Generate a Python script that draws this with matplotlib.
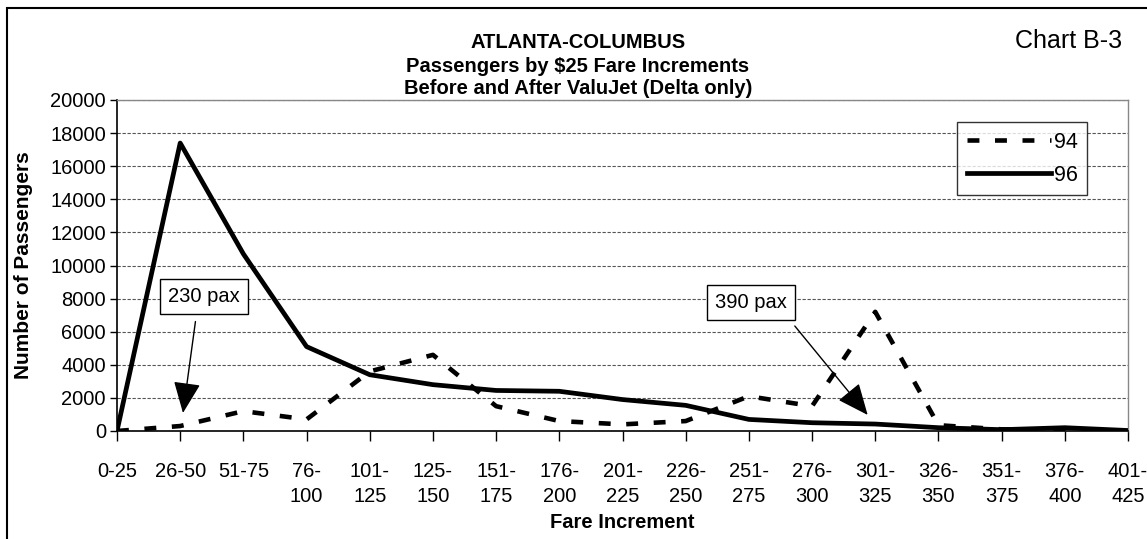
import matplotlib
matplotlib.use("Agg")
import matplotlib.pyplot as plt
from matplotlib.patches import Rectangle

plt.rcParams['font.family'] = ['Liberation Sans', 'DejaVu Sans']

# ---------- data ----------
fare_labels = ["0-25", "26-50", "51-75", "76-\n100", "101-\n125", "125-\n150", "151-\n175",
               "176-\n200", "201-\n225", "226-\n250", "251-\n275", "276-\n300", "301-\n325",
               "326-\n350", "351-\n375", "376-\n400", "401-\n425"]
pax_94 = [0, 300, 1200, 700, 3600, 4600, 1500, 600, 400, 600, 2100, 1500, 7200, 350, 100, 100, 0]
pax_96 = [0, 17400, 10700, 5100, 3400, 2800, 2450, 2400, 1900, 1550, 700, 500, 420, 200, 80, 200, 30]
y_ticks = list(range(0, 20001, 2000))

W, H = 1147, 539
fig = plt.figure(figsize=(W / 100, H / 100), dpi=100)
ax = fig.add_axes([117 / W, 1 - 431 / H, (1128 - 117) / W, (431 - 100) / H])

x = list(range(len(fare_labels)))
ax.plot(x, pax_94, color="black", lw=3.3, dashes=(2.6, 3.4), label="94",
        dash_capstyle="butt", zorder=3)
ax.plot(x, pax_96, color="black", lw=3.4, label="96", zorder=3)

ax.set_xlim(0, len(fare_labels) - 1)
ax.set_ylim(0, 20000)
ax.set_yticks(y_ticks)
ax.set_xticks(x)
ax.set_xticklabels(fare_labels, fontsize=14.5, linespacing=1.45, va="top")
ax.tick_params(axis="y", labelsize=14.5, length=5, width=1, direction="out", pad=3)
ax.tick_params(axis="x", length=7, width=1, direction="out", pad=15)
ax.grid(axis="y", color="#555555", ls=(0, (3, 1.5)), lw=0.8)
ax.set_axisbelow(True)
for s in ("top", "right"):
    ax.spines[s].set_color("#888888")
    ax.spines[s].set_linewidth(1)
ax.spines["left"].set_linewidth(1.2)
ax.spines["bottom"].set_linewidth(1.2)

ax.set_ylabel("Number of Passengers", fontsize=15, fontweight="bold", labelpad=12)
ax.set_xlabel("Fare Increment", fontsize=14.5, fontweight="bold", labelpad=5)

leg = ax.legend(loc="upper left", bbox_to_anchor=((957 - 117) / 1011, (431 - 122) / 331),
                fontsize=15.5, frameon=True, fancybox=False, edgecolor="black",
                handlelength=3.9, handletextpad=0.15, borderpad=0.45, labelspacing=0.55,
                borderaxespad=0)
leg.get_frame().set_linewidth(1)

# annotations
box = dict(boxstyle="square,pad=0.4", fc="white", ec="black", lw=1)
ax.annotate("230 pax", xy=(1.044, 1090), xytext=(1.377, 8120), fontsize=14.5,
            ha="center", va="center", bbox=box,
            arrowprops=dict(arrowstyle="-|>,head_width=0.5,head_length=1.15", color="black",
                            lw=1, shrinkA=5, shrinkB=0, mutation_scale=17, relpos=(0.41, 0)))
ax.annotate("390 pax", xy=(11.88, 970), xytext=(10.04, 7760), fontsize=14.5,
            ha="center", va="center", bbox=box,
            arrowprops=dict(arrowstyle="-|>,head_width=0.5,head_length=1.15", color="black",
                            lw=1, shrinkA=5, shrinkB=0, mutation_scale=17, relpos=(0.945, 0)))

# titles
fig.text(578 / W, 1 - 42 / H, "ATLANTA-COLUMBUS", ha="center", va="center",
         fontsize=14.5, fontweight="bold")
fig.text(578 / W, 1 - 66 / H, "Passengers by $25 Fare Increments", ha="center", va="center",
         fontsize=14.5, fontweight="bold")
fig.text(578 / W, 1 - 89 / H, "Before and After ValuJet (Delta only)", ha="center",
         va="center", fontsize=14.5, fontweight="bold")
fig.text(1122 / W, 1 - 41 / H, "Chart B-3", ha="right", va="center", fontsize=18)

# outer frame
fig.patches.append(Rectangle((7 / W, -0.05), 1.2, 1 - 8 / H + 0.05, transform=fig.transFigure,
                             fill=False, ec="black", lw=1.5))

fig.savefig("out.png", dpi=100)
